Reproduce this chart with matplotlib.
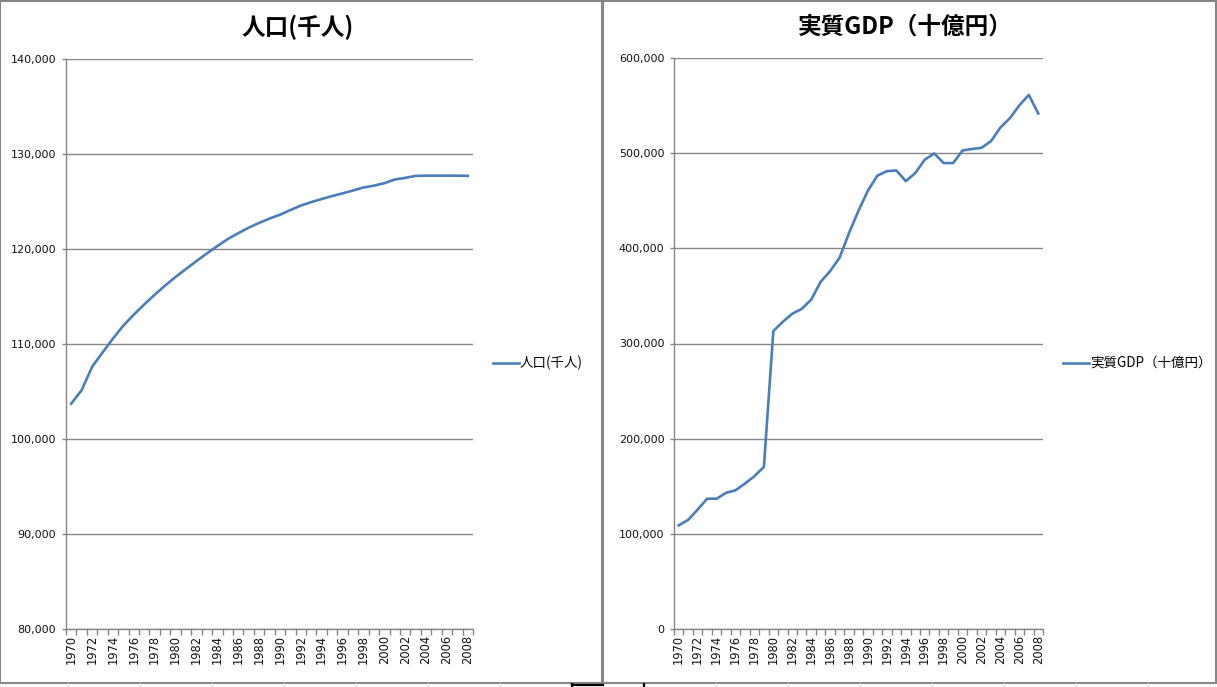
import matplotlib
matplotlib.use("Agg")
import matplotlib.pyplot as plt
from matplotlib.lines import Line2D
from matplotlib.patches import Rectangle
from matplotlib.ticker import FuncFormatter, FixedLocator

# ---------------- data ----------------
years = list(range(1970, 2009))
population = [103720, 105145, 107595, 109104, 110573, 111940, 113094, 114165, 115190, 116155,
              117060, 117902, 118728, 119536, 120305, 121049, 121660, 122239, 122745, 123205,
              123611, 124101, 124567, 124938, 125265, 125570, 125859, 126157, 126472, 126667,
              126926, 127316, 127486, 127694, 127720, 127720, 127720, 127720, 127700]
gdp = [108900, 114700, 125500, 136900, 136900, 143100, 145800, 152800, 160600, 170300,
       313100, 322800, 331300, 336400, 346100, 364800, 376100, 390100, 416100, 439500,
       460800, 476400, 481100, 481800, 470600, 479100, 493100, 499700, 489600, 489600,
       502800, 504400, 505600, 512600, 527000, 536700, 550300, 561200, 541700]
pop_title = "人口(千人)"
gdp_title = "実質GDP（十億円）"
pop_ylim = (80000, 140000)
pop_yticks = [80000, 90000, 100000, 110000, 120000, 130000, 140000]
gdp_ylim = (0, 600000)
gdp_yticks = [0, 100000, 200000, 300000, 400000, 500000, 600000]

# ---------------- style ----------------
W, H = 1217, 687
LINE = "#4a7ebb"
GRID = "#868686"
CJK = ["Noto Sans CJK JP", "DejaVu Sans"]

fig = plt.figure(figsize=(W / 100, H / 100), dpi=100)
fig.patch.set_facecolor("white")


def fx(x):
    return x / W


def fy(y):
    return 1 - y / H


# spreadsheet gridlines under the charts (bottom strip)
for cx in range(68, W, 72):
    fig.add_artist(Line2D([fx(cx), fx(cx)], [fy(683), fy(687)], color="#d6dbe3", lw=1))

# chart frames
fig.add_artist(Rectangle((fx(0), fy(683)), fx(602) - fx(0), fy(1) - fy(683),
                         fill=False, ec=GRID, lw=1.5))
fig.add_artist(Rectangle((fx(603), fy(683)), fx(1216) - fx(603), fy(1) - fy(683),
                         fill=False, ec=GRID, lw=1.5))

# selected-cell marker at bottom
fig.add_artist(Line2D([fx(572), fx(603)], [fy(684.5), fy(684.5)], color="black", lw=1.6))
fig.add_artist(Line2D([fx(572), fx(572)], [fy(684), fy(687)], color="black", lw=1.6))
fig.add_artist(Line2D([fx(644), fx(644)], [fy(684), fy(687)], color="black", lw=1.6))


def make_chart(rect, values, ylim, yticks, title, title_x, legend_x):
    ax = fig.add_axes(rect)
    n = len(years)
    idx = list(range(n))
    ax.plot(idx, values, color=LINE, lw=1.9, solid_joinstyle="round")
    ax.set_xlim(-0.5, n - 0.5)
    ax.set_ylim(*ylim)
    ax.set_yticks(yticks)
    ax.yaxis.set_major_formatter(FuncFormatter(lambda v, p: f"{int(v):,}"))
    ax.grid(axis="y", color=GRID, lw=1)
    ax.set_axisbelow(True)
    # x ticks: labels every 2 years at category centres, tick marks between categories
    ax.set_xticks(idx[::2])
    ax.set_xticklabels([str(y) for y in years[::2]], rotation=90, fontsize=8.3,
                       family="DejaVu Sans", color="#111111")
    ax.xaxis.set_minor_locator(FixedLocator([i - 0.5 for i in range(n + 1)]))
    ax.tick_params(axis="x", which="major", length=0, pad=4)
    ax.tick_params(axis="x", which="minor", length=4, color=GRID, width=1)
    ax.tick_params(axis="y", length=3, color=GRID, width=1, pad=4, labelsize=8,
                   labelcolor="#111111")
    for s in ("top", "right"):
        ax.spines[s].set_visible(False)
    for s in ("left", "bottom"):
        ax.spines[s].set_color(GRID)
        ax.spines[s].set_linewidth(1)
    # title
    fig.text(fx(title_x), fy(27), title, ha="center", va="center", fontsize=17,
             fontweight="bold", family=CJK, color="black")
    # legend
    fig.add_artist(Line2D([fx(legend_x), fx(legend_x + 26)], [fy(363), fy(363)],
                          color=LINE, lw=1.9))
    fig.text(fx(legend_x + 27), fy(363), title, ha="left", va="center", fontsize=9.7,
             family=CJK, color="black")
    return ax


make_chart([fx(66), fy(629), fx(473) - fx(66), fy(59) - fy(629)], population,
           pop_ylim, pop_yticks, pop_title, 298, 493)
make_chart([fx(674), fy(629), fx(1043) - fx(674), fy(58) - fy(629)], gdp,
           gdp_ylim, gdp_yticks, gdp_title, 905, 1063)

fig.savefig("out.png", dpi=100)
